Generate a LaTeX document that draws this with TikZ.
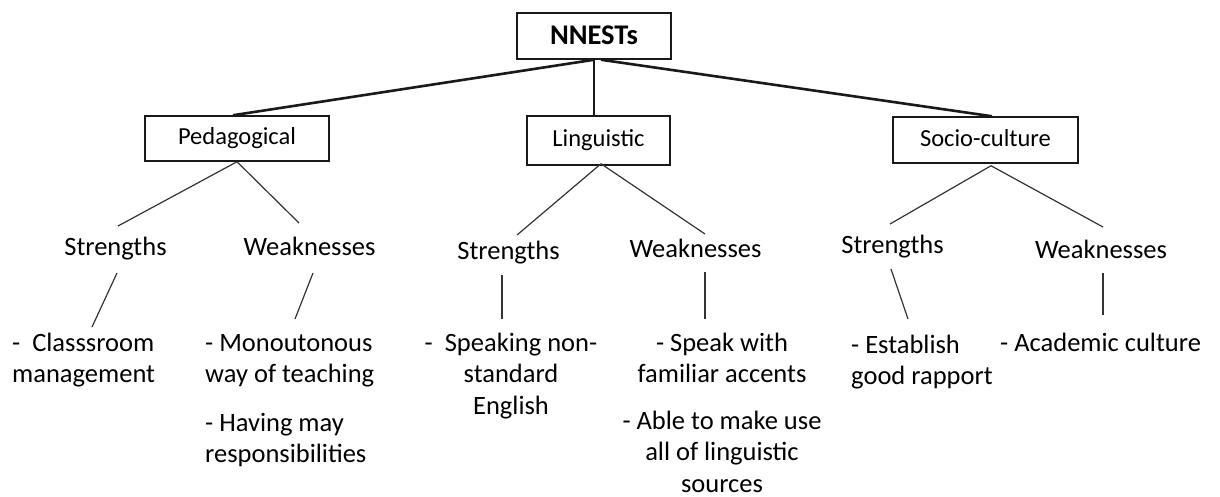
\documentclass[tikz,border=0pt]{standalone}
\usepackage{fontspec}
\setmainfont{Carlito}
\usetikzlibrary{calc}
\begin{document}
\begin{tikzpicture}[x=1pt,y=-1pt,
  box/.style={draw=black!90, line width=1.5pt, inner sep=0pt, align=center,
    font=\fontsize{24.5}{29}\selectfont, text height=17pt, text depth=5pt},
  lbl/.style={inner sep=0pt, anchor=base, font=\fontsize{26.5}{31.5}\selectfont},
  itemL/.style={inner sep=0pt, anchor=base west, font=\fontsize{26.5}{31.5}\selectfont},
  itemC/.style={inner sep=0pt, anchor=base, font=\fontsize{26.5}{31.5}\selectfont},
  mainline/.style={line width=2.6pt, black!90},
  subline/.style={line width=1.2pt, black!80}]
\useasboundingbox (0,0) rectangle (1220,496);

% boxes
\node[box, minimum width=154pt, minimum height=46pt,
  font=\bfseries\fontsize{28.5}{33}\selectfont, text height=19pt, text depth=2pt] (top) at (594,36) {NNESTs};
\node[box, minimum width=184pt, minimum height=45pt] (ped) at (237,138.5) {Pedagogical};
\node[box, minimum width=143pt, minimum height=49pt] (ling) at (598.5,140.5) {Linguistic};
\node[box, minimum width=185pt, minimum height=46pt] (soc) at (985.5,140) {Socio-culture};

% labels
\node[lbl] (sp) at (115.5,255) {Strengths};
\node[lbl] (wp) at (309.5,255) {Weaknesses};
\node[lbl] (sl) at (508.5,259) {Strengths};
\node[lbl] (wl) at (695.5,257) {Weaknesses};
\node[lbl] (ss) at (892.5,253) {Strengths};
\node[lbl] (ws) at (1101,258) {Weaknesses};

% items
\node[itemL] (ci) at (12,351) {\begin{tabular}[t]{@{}l@{}}-\ \ Classsroom\\management\end{tabular}};
\node[itemL] (mi) at (205,351) {\begin{tabular}[t]{@{}l@{}}- Monoutonous\\way of teaching\\[17pt]- Having may\\responsibilities\end{tabular}};
\node[itemC] (si) at (511,351) {\begin{tabular}[t]{@{}c@{}}-\ \ Speaking non-\\standard\\English\end{tabular}};
\node[itemC] (ki) at (722,351) {\begin{tabular}[t]{@{}c@{}}- Speak with\\familiar accents\\[15pt]- Able to make use\\all of linguistic\\sources\end{tabular}};
\node[itemL] (ei) at (851,353) {\begin{tabular}[t]{@{}l@{}}- Establish\\good rapport\end{tabular}};
\node[itemL] (ai) at (1000,351) {\begin{tabular}[t]{@{}l@{}}- Academic culture\end{tabular}};

% top-level connectors
\draw[mainline] (top.south) -- ($(ped.north)+(-4,0)$);
\draw[mainline] (top.south) -- (top.south |- ling.north);
\draw[mainline] ($(top.south)+(7,0)$) -- ($(soc.north)+(6.5,0)$);

% second-level connectors
\draw[subline] (ped.south) -- ($(sp.base)+(2.5,-29)$);
\draw[subline] (ped.south) -- ($(wp.base)+(-10.5,-32)$);
\draw[subline] ($(ling.south)+(2.5,-2)$) -- ($(sl.base)+(8.5,-24)$);
\draw[subline] ($(ling.south)+(2.5,-2)$) -- ($(wl.base)+(9.5,-23)$);
\draw[subline] ($(soc.south)+(5.5,2)$) -- ($(ss.base)+(-2.5,-29)$);
\draw[subline] ($(soc.south)+(5.5,2)$) -- ($(ws.base)+(2,-31)$);

% third-level connectors
\draw[subline] ($(sp.base)+(1.5,18)$) -- ($(ci.base west)+(80,-24)$);
\draw[subline] ($(wp.base)+(3.5,18)$) -- ($(mi.base west)+(90,-32)$);
\draw[subline] ($(sl.base)+(-6.5,16)$) -- ($(si.base)+(-9,-32)$);
\draw[subline] ($(wl.base)+(9.5,15)$) -- ($(ki.base)+(-17,-32)$);
\draw[subline] ($(ss.base)+(-1.5,16)$) -- ($(ei.base west)+(57,-34)$);
\draw[subline] ($(ws.base)+(2,15)$) -- ($(ai.base west)+(103,-36)$);
\end{tikzpicture}
\end{document}
